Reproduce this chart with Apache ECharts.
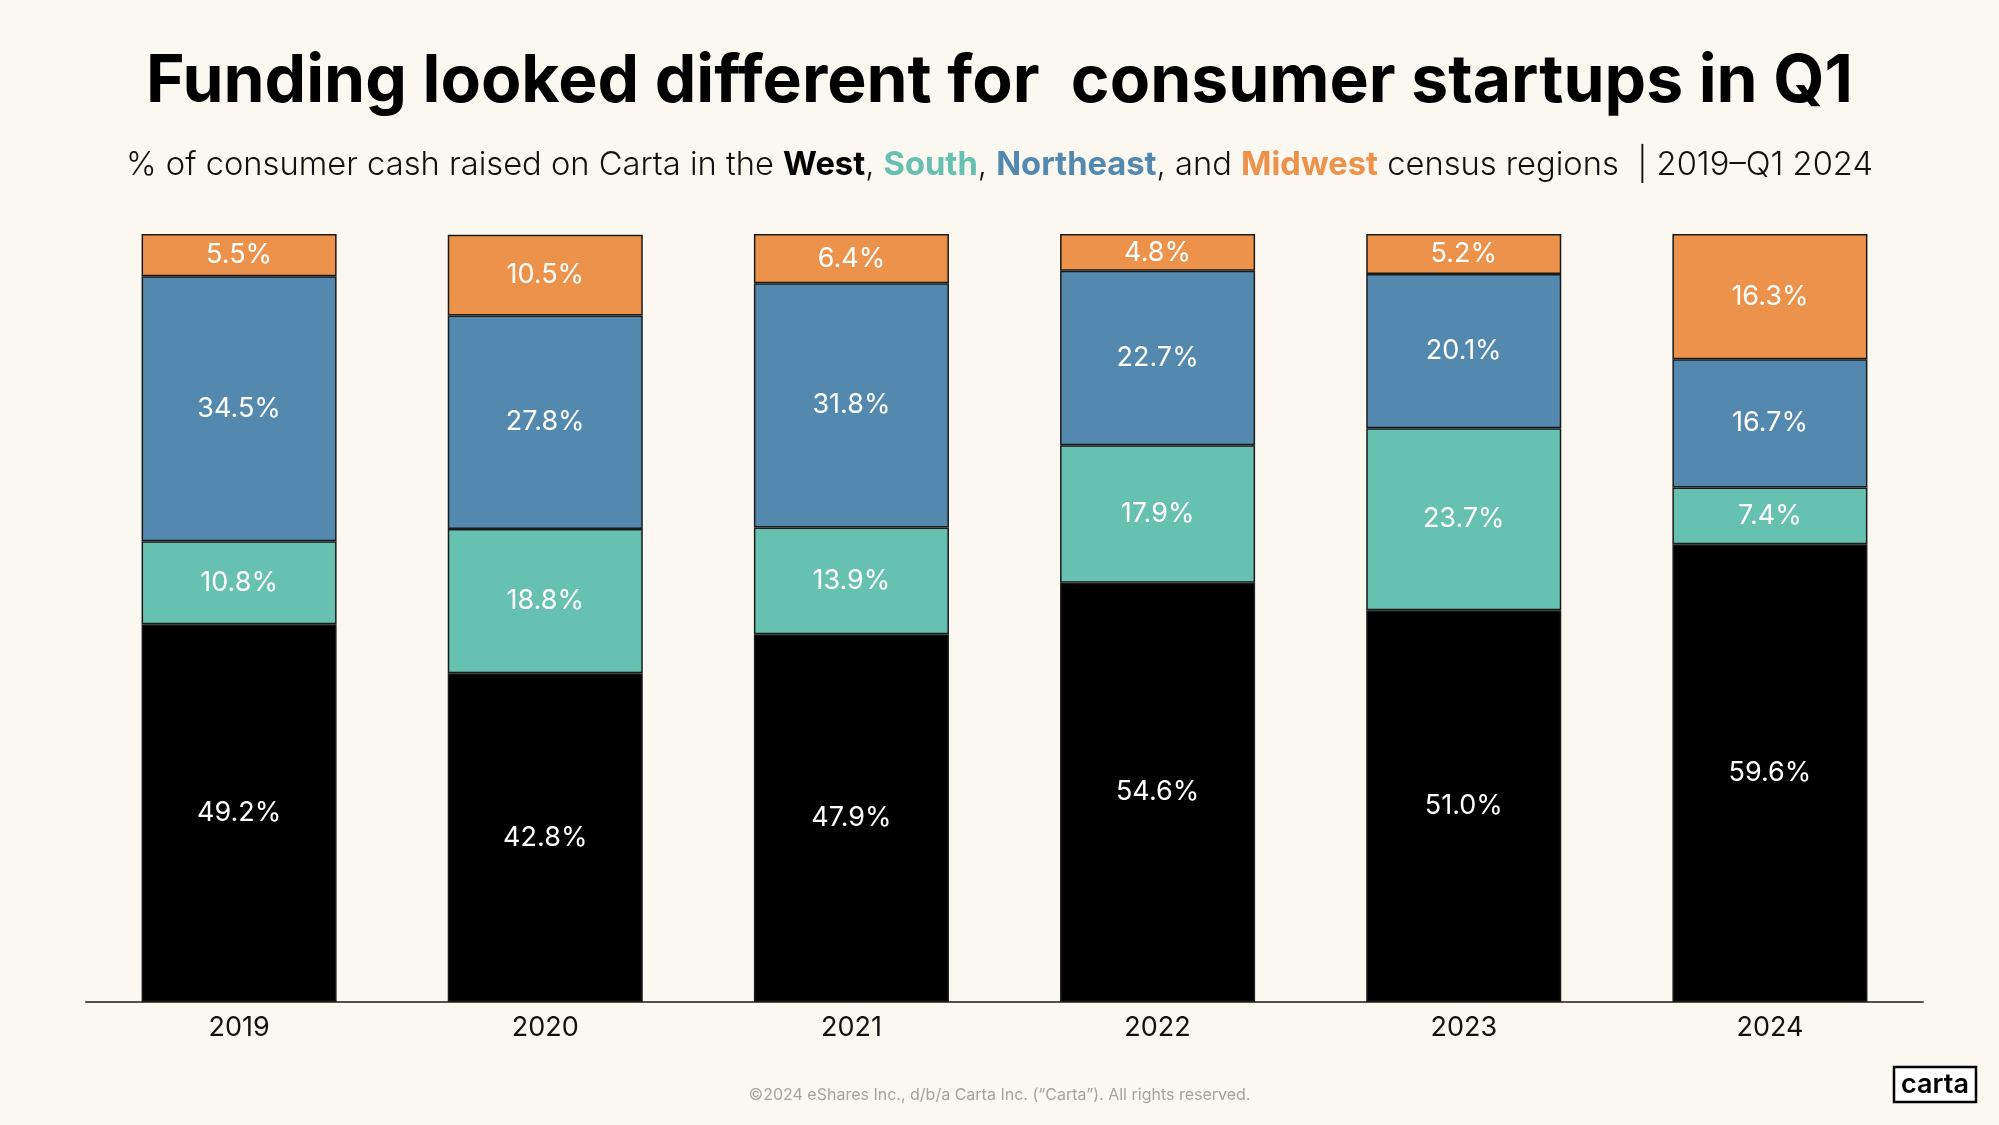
<!DOCTYPE html>
<html>
<head>
<meta charset="utf-8">
<script src="https://cdn.jsdelivr.net/npm/echarts@6/dist/echarts.min.js"></script>
<style>
html,body{margin:0;padding:0;background:#FBF8F2;}
#chart{width:1999px;height:1125px;}
</style>
</head>
<body>
<div id="chart"></div>
<script>
const categories = ['2019','2020','2021','2022','2023','2024'];
const west      = [49.2, 42.8, 47.9, 54.6, 51.0, 59.6];
const south     = [10.8, 18.8, 13.9, 17.9, 23.7, 7.4];
const northeast = [34.5, 27.8, 31.8, 22.7, 20.1, 16.7];
const midwest   = [5.5, 10.5, 6.4, 4.8, 5.2, 16.3];

const colors = {west:'#000000', south:'#66C1B1', northeast:'#5489AF', midwest:'#EC924B'};
const FONT = 'Inter';

function mkSeries(name, data, color){
  return {
    name: name, type: 'bar', stack: 'total', data: data,
    barCategoryGap: '36.3%',
    itemStyle: {color: color, borderColor: '#1a1a1a', borderWidth: 1.5},
    label: {show: true, position: 'inside', color: '#ffffff', fontFamily: FONT,
            fontSize: 27, fontWeight: 400, formatter: p => p.value.toFixed(1) + '%'}
  };
}

const chart = echarts.init(document.getElementById('chart'));
chart.setOption({
  backgroundColor: '#FBF8F2',
  animation: false,
  title: [
    {text: 'Funding looked different for  consumer startups in Q1', left: 'center', top: 49, padding: 0,
     textStyle: {fontFamily: FONT, fontSize: 66, fontWeight: 700, color: '#000'}},
    {text: '% of consumer cash raised on Carta in the {w|West}, {s|South}, {n|Northeast}, and {m|Midwest} census regions  | 2019–Q1 2024',
     left: 'center', top: 149, padding: 0,
     textStyle: {fontFamily: FONT, fontSize: 32.7, fontWeight: 300, color: '#111',
       rich: {
         w: {fontFamily: FONT, fontSize: 32.7, fontWeight: 700, color: '#000'},
         s: {fontFamily: FONT, fontSize: 32.7, fontWeight: 700, color: '#66C1B1'},
         n: {fontFamily: FONT, fontSize: 32.7, fontWeight: 700, color: '#5489AF'},
         m: {fontFamily: FONT, fontSize: 32.7, fontWeight: 700, color: '#EC924B'}
       }}},
    {text: '©2024 eShares Inc., d/b/a Carta Inc. (“Carta”). All rights reserved.', left: 'center', top: 1087, padding: 0,
     textStyle: {fontFamily: FONT, fontSize: 16, fontWeight: 400, color: '#A6A29C'}}
  ],
  grid: {left: 86, right: 76, top: 234, bottom: 123, containLabel: false},
  xAxis: {
    type: 'category', data: categories,
    axisLine: {lineStyle: {color: '#55524c', width: 2}},
    axisTick: {show: false},
    axisLabel: {fontFamily: FONT, fontSize: 27, color: '#111', margin: 12}
  },
  yAxis: {type: 'value', min: 0, max: 100, show: false, splitLine: {show: false}},
  series: [
    mkSeries('West', west, colors.west),
    mkSeries('South', south, colors.south),
    mkSeries('Northeast', northeast, colors.northeast),
    mkSeries('Midwest', midwest, colors.midwest)
  ],
  graphic: [
    {type: 'rect', shape: {x: 1894, y: 1067, width: 82, height: 35},
     style: {fill: '#ffffff', stroke: '#000', lineWidth: 2.5}},
    {type: 'text', x: 1935, y: 1084.5,
     style: {text: 'carta', fontFamily: FONT, fontSize: 27, fontWeight: 600, fill: '#000',
             align: 'center', verticalAlign: 'middle'}}
  ]
});
</script>
</body>
</html>
